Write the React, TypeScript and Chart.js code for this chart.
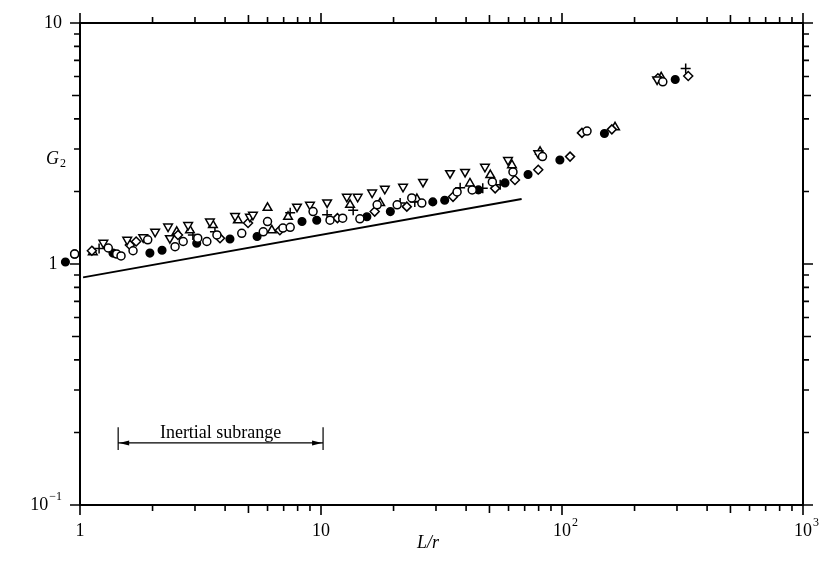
import React, { useEffect, useRef } from "react";
import { Chart, registerables } from "chart.js";

Chart.register(...registerables);

// ---- data (L/r, G2) ----
const filledCircles: [number, number][] = [
  [0.87, 1.02], [1.37, 1.11], [1.95, 1.11], [2.19, 1.14], [3.05, 1.22], [4.19, 1.27],
  [5.43, 1.3], [8.34, 1.5], [9.6, 1.52], [15.5, 1.57], [19.4, 1.65], [29.1, 1.81],
  [32.6, 1.84], [45.0, 2.03], [58.0, 2.17], [72.3, 2.35], [98, 2.7], [150, 3.48], [295, 5.83],
];
const openCircles: [number, number][] = [
  [0.95, 1.1], [1.31, 1.165], [1.42, 1.1], [1.48, 1.08], [1.66, 1.135], [1.91, 1.26],
  [2.48, 1.18], [2.68, 1.24], [3.08, 1.28], [3.36, 1.24], [3.7, 1.32], [4.69, 1.34],
  [5.76, 1.36], [6.0, 1.5], [6.95, 1.41], [7.45, 1.42], [9.27, 1.65], [10.9, 1.52],
  [12.3, 1.55], [14.5, 1.54], [17.1, 1.76], [20.7, 1.76], [23.8, 1.88], [26.2, 1.79],
  [36.7, 1.99], [42.4, 2.03], [51.4, 2.19], [62.6, 2.41], [83.0, 2.79], [127, 3.56], [262, 5.7],
];
const invTriangles: [number, number][] = [
  [1.25, 1.225], [1.57, 1.26], [1.83, 1.29], [2.05, 1.36], [2.32, 1.43], [2.36, 1.28],
  [2.81, 1.45], [3.46, 1.5], [4.4, 1.58], [5.07, 1.57], [5.22, 1.6], [7.95, 1.73],
  [9.0, 1.76], [10.6, 1.8], [12.8, 1.9], [14.2, 1.9], [16.3, 1.98], [18.4, 2.05],
  [21.9, 2.09], [26.5, 2.19], [34.3, 2.38], [39.6, 2.41], [47.9, 2.53], [59.7, 2.7],
  [79.7, 2.88], [248, 5.83],
];
const diamonds: [number, number][] = [
  [1.12, 1.135], [1.61, 1.2], [1.71, 1.24], [2.55, 1.32], [3.81, 1.28], [4.98, 1.48],
  [6.75, 1.38], [11.7, 1.55], [16.7, 1.65], [22.7, 1.73], [35.3, 1.9], [52.8, 2.06],
  [63.8, 2.23], [79.7, 2.46], [108, 2.79], [121, 3.5], [161, 3.62], [250, 5.9], [334, 6.03],
];
const triangles: [number, number][] = [
  [1.13, 1.12], [2.52, 1.36], [2.86, 1.38], [3.56, 1.45], [4.52, 1.52], [6.0, 1.71],
  [6.25, 1.38], [7.3, 1.57], [13.2, 1.76], [17.6, 1.79], [25.0, 1.86], [41.5, 2.16],
  [50.4, 2.34], [62.0, 2.57], [81.1, 2.92], [166, 3.69], [258, 5.95],
];
const crosses: [number, number][] = [
  [1.2, 1.16], [2.94, 1.32], [3.63, 1.36], [7.45, 1.63], [10.6, 1.6], [13.6, 1.67],
  [21.3, 1.79], [24.5, 1.81], [37.8, 2.07], [46.9, 2.06], [55.4, 2.13], [326, 6.48],
];
const fitLine: [number, number][] = [[1.03, 0.88], [68, 1.86]];

const xTicks = [1, 10, 100, 1000];
const xTickLabels: [string, string][] = [["1", ""], ["10", ""], ["10", "2"], ["10", "3"]];
const yTicks = [0.1, 1, 10];
const yTickLabels: [string, string][] = [["10", "\u22121"], ["1", ""], ["10", ""]];

const subrangeFrom = 1.44;
const subrangeTo = 10.2;
const subrangeY = 0.181;
const subrangeBarTop = 0.21;
const subrangeBarBottom = 0.169;
const subrangeTextY = 0.199;
const subrangeText = "Inertial subrange";

const xTitle = "L/r";
const yTitle = "G";
const yTitleSub = "2";

const SERIF = "'Liberation Serif', 'DejaVu Serif', serif";

const toPts = (a: [number, number][]) => a.map(([x, y]) => ({ x, y }));

// draws points the library skipped because they lie just outside the plot area
const outsidePointsPlugin = {
  id: "outsidePoints",
  afterDatasetsDraw(chart: any) {
    const { left, right, top, bottom } = chart.chartArea;
    const big = { left: -1e5, right: 1e5, top: -1e5, bottom: 1e5 };
    chart.data.datasets.forEach((ds: any, i: number) => {
      if (ds.type === "line") return;
      const meta = chart.getDatasetMeta(i);
      meta.data.forEach((el: any) => {
        const r = (el.options && el.options.radius) || 0;
        const inside = el.x > left - r / 2 - 0.5 && el.x < right + r / 2 + 0.5 &&
          el.y > top - r / 2 - 0.5 && el.y < bottom + r / 2 + 0.5;
        if (!inside) el.draw(chart.ctx, big);
      });
    });
  },
};

const framePlugin = {
  id: "framePlugin",
  afterDraw(chart: any) {
    const ctx = chart.ctx as CanvasRenderingContext2D;
    const { left, right, top, bottom } = chart.chartArea;
    const xs = chart.scales.x;
    const ys = chart.scales.y;
    ctx.save();
    ctx.strokeStyle = "#000";
    ctx.fillStyle = "#000";
    ctx.lineWidth = 2;
    ctx.strokeRect(left, top, right - left, bottom - top);

    const tickLen = (m: number) => (m === 1 ? 10 : m === 5 ? 8 : 6);
    ctx.lineWidth = 1.6;
    for (let d = 1; d <= 1000; d *= 10) {
      for (let m = 1; m <= 9; m++) {
        const v = d * m;
        if (v > 1000) break;
        const px = xs.getPixelForValue(v);
        const L = tickLen(m);
        ctx.beginPath();
        ctx.moveTo(px, bottom);
        ctx.lineTo(px, bottom + L);
        ctx.moveTo(px, top);
        ctx.lineTo(px, top - L);
        ctx.stroke();
      }
    }
    for (let d = 0.1; d <= 10.001; d *= 10) {
      for (let m = 1; m <= 9; m++) {
        const v = d * m;
        if (v > 10.001) break;
        const py = ys.getPixelForValue(v);
        const L = tickLen(m);
        ctx.beginPath();
        ctx.moveTo(left, py);
        ctx.lineTo(left - L, py);
        ctx.moveTo(right, py);
        ctx.lineTo(right + L, py);
        ctx.stroke();
      }
    }

    const drawPow = (base: string, exp: string, x: number, y: number, align: "center" | "right") => {
      ctx.font = `18px ${SERIF}`;
      const bw = ctx.measureText(base).width;
      ctx.font = `12px ${SERIF}`;
      const ew = exp ? ctx.measureText(exp).width + 1 : 0;
      const bx = align === "center" ? x - bw / 2 : x - bw - ew;
      ctx.textAlign = "left";
      ctx.textBaseline = "middle";
      ctx.font = `18px ${SERIF}`;
      ctx.fillText(base, bx, y);
      if (exp) {
        ctx.font = `12px ${SERIF}`;
        ctx.fillText(exp, bx + bw + 1, y - 8);
      }
    };
    xTicks.forEach((v, i) => {
      const [b, e] = xTickLabels[i];
      drawPow(b, e, xs.getPixelForValue(v), bottom + 26, "center");
    });
    yTicks.forEach((v, i) => {
      const [b, e] = yTickLabels[i];
      if (b === "1" && !e) drawPow(b, e, left - 27, ys.getPixelForValue(v), "center");
      else drawPow(b, e, left - 18, ys.getPixelForValue(v), "right");
    });

    ctx.font = `italic 18px ${SERIF}`;
    ctx.textAlign = "center";
    ctx.textBaseline = "middle";
    ctx.fillText(xTitle, 428, bottom + 38);
    const gw = ctx.measureText(yTitle).width;
    ctx.textAlign = "left";
    ctx.fillText(yTitle, 46, 159);
    ctx.font = `12px ${SERIF}`;
    ctx.fillText(yTitleSub, 46 + gw + 1, 164);

    const x0 = xs.getPixelForValue(subrangeFrom);
    const x1 = xs.getPixelForValue(subrangeTo);
    const ay = ys.getPixelForValue(subrangeY);
    const bt = ys.getPixelForValue(subrangeBarTop);
    const bb = ys.getPixelForValue(subrangeBarBottom);
    ctx.lineWidth = 1.2;
    ctx.beginPath();
    ctx.moveTo(x0, bt);
    ctx.lineTo(x0, bb);
    ctx.moveTo(x1, bt);
    ctx.lineTo(x1, bb);
    ctx.moveTo(x0, ay);
    ctx.lineTo(x1, ay);
    ctx.stroke();
    ctx.beginPath();
    ctx.moveTo(x0 + 1, ay);
    ctx.lineTo(x0 + 11, ay - 2.5);
    ctx.lineTo(x0 + 11, ay + 2.5);
    ctx.closePath();
    ctx.moveTo(x1 - 1, ay);
    ctx.lineTo(x1 - 11, ay - 2.5);
    ctx.lineTo(x1 - 11, ay + 2.5);
    ctx.closePath();
    ctx.fill();
    ctx.font = `18px ${SERIF}`;
    ctx.textAlign = "center";
    ctx.textBaseline = "middle";
    ctx.fillText(subrangeText, (x0 + x1) / 2, ys.getPixelForValue(subrangeTextY));
    ctx.restore();
  },
};

export default function App() {
  const ref = useRef<HTMLCanvasElement | null>(null);
  useEffect(() => {
    document.body.style.margin = "0";
    const open = (data: [number, number][], style: string, r: number, rot = 0) => ({
      type: "scatter" as const,
      data: toPts(data),
      pointStyle: style,
      pointRadius: r,
      pointRotation: rot,
      pointBackgroundColor: "#fff",
      pointBorderColor: "#000",
      pointBorderWidth: 1.5,
      showLine: false,
      clip: false as any,
    });
    const chart = new Chart(ref.current as HTMLCanvasElement, {
      type: "scatter",
      data: {
        datasets: [
          {
            type: "line",
            data: toPts(fitLine),
            borderColor: "#000",
            borderWidth: 2,
            pointRadius: 0,
            fill: false,
          } as any,
          open(openCircles, "circle", 4),
          open(invTriangles, "triangle", 5, 180),
          open(diamonds, "rectRot", 4.5),
          open(triangles, "triangle", 5),
          open(crosses, "cross", 5),
          {
            ...open(filledCircles, "circle", 3.8),
            pointBackgroundColor: "#000",
          },
        ],
      },
      options: {
        animation: false,
        responsive: true,
        maintainAspectRatio: false,
        layout: { autoPadding: false, padding: { left: 80, right: 18, top: 23, bottom: 62 } } as any,
        plugins: { legend: { display: false }, tooltip: { enabled: false } },
        scales: {
          x: { type: "logarithmic", min: 1, max: 1000, display: false },
          y: { type: "logarithmic", min: 0.1, max: 10, display: false },
        },
      },
      plugins: [outsidePointsPlugin, framePlugin],
    });
    return () => chart.destroy();
  }, []);
  return (
    <div style={{ position: "relative", width: 821, height: 567, background: "#fff" }}>
      <canvas ref={ref} />
    </div>
  );
}
